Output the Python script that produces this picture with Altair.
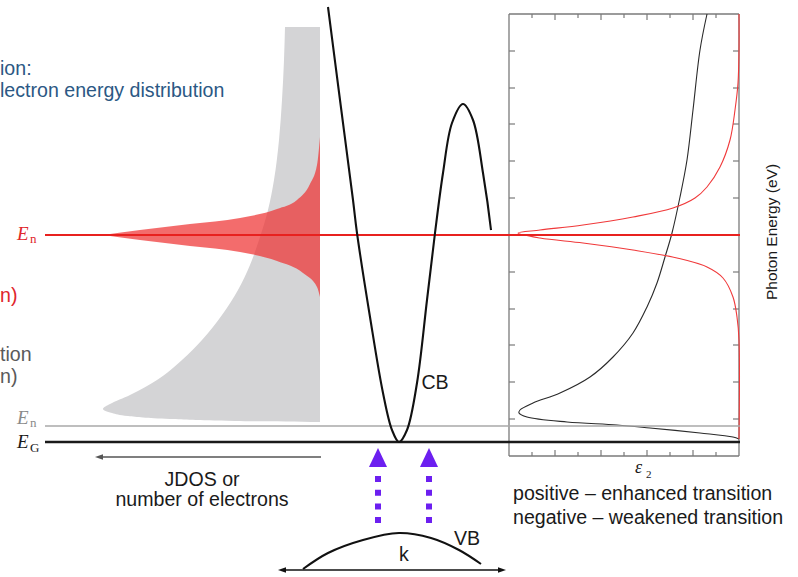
import altair as alt
import pandas as pd

# ---------------- canvas (data units = picture units) ----------------
W, H = 798, 577

# energy levels: red E_n, gray E_n, E_G
level_name = ["En_red", "En_gray", "EG"]
level_y = [235, 426, 442]
level_x0 = [45, 45, 45]
level_x1 = [740, 740, 740]
level_color = ["#e8211f", "#a8a8a8", "#1a1a1a"]
level_width = [2.2, 1.5, 2.6]

# JDOS (gray) envelope: left boundary x for each energy y, right edge fixed
jdos_y = [27, 60, 100, 140, 180, 210, 240, 265, 290, 315, 340, 360, 380, 395, 404, 409, 413, 416, 419, 421, 422]
jdos_x = [285, 284, 282, 279, 274, 268, 259, 250, 238, 222, 202, 182, 157, 130, 110, 103, 112, 128, 170, 235, 320]
jdos_edge = 320

# red Lorentzian electron-energy distribution (upper and lower halves around E_n)
lor_center = 235
lor_up_x = [103, 121, 140, 190, 240, 277, 297, 310, 317, 320]
lor_up_y = [235, 232.5, 230, 224, 218, 209, 200, 184, 165, 137]
lor_lo_x = [103, 121, 140, 190, 240, 277, 303, 317, 320]
lor_lo_y = [235, 237.5, 240, 246, 252, 261, 273, 287, 297]

# conduction band
cb_x = [328, 340, 353, 357, 370, 383, 392, 399, 407, 417, 427, 435, 443, 452, 463, 473, 483, 491]
cb_y = [7, 100, 200, 233, 317, 393, 430, 442, 430, 383, 300, 233, 173, 123, 104, 120, 173, 230]

# valence band
vb_x = [303, 328, 363, 399, 431, 459, 481]
vb_y = [569, 553, 540, 533, 538, 550, 564]

# epsilon_2 panel: frame and ticks
panel_x0, panel_x1, panel_y0, panel_y1 = 509, 739, 14, 456
xtick_pos = [532, 555, 578, 601, 624, 647, 670, 693, 716]
xtick_len = [4, 6, 4, 6, 4, 6, 4, 6, 4]
ytick_pos = [51, 88, 124, 161, 198, 235, 272, 309, 345, 382, 419]

# epsilon_2 curves (black: reference, red: with hot electrons)
e2b_x = [707, 700, 693, 687, 680, 672, 665, 657, 647, 633, 613, 590, 560, 533, 520, 519, 527, 567, 617, 650, 700, 733, 739]
e2b_y = [14, 50, 110, 160, 197, 233, 257, 283, 307, 333, 357, 377, 393, 403, 410, 413, 417, 422, 425, 428, 433, 437, 439]
e2r_x = [739, 739, 738, 735, 730, 720, 707, 695, 673, 633, 583, 540, 518, 540, 583, 633, 677, 707, 723, 733, 737, 739, 739]
e2r_y = [14, 50, 83, 110, 140, 167, 187, 198, 208, 217, 225, 230, 233, 238, 243, 250, 258, 267, 278, 297, 317, 340, 439]

# purple transition arrows
arrow_x = [378, 429]
arrow_dot_top, arrow_dot_bottom, arrow_head_y = 476, 524, 457.5
PURPLE = "#6c1ff0"

# ---------------- helpers ----------------
xs = alt.Scale(domain=[0, W], nice=False, zero=False)
ys = alt.Scale(domain=[0, H], nice=False, zero=False, reverse=True)
FS = 19.6


def X(f):
    return alt.X(f, type="quantitative", scale=xs, axis=None)


def Y(f):
    return alt.Y(f, type="quantitative", scale=ys, axis=None)


def texts(rows, **kw):
    df = pd.DataFrame(rows, columns=["t", "x", "y"])
    base = dict(font="Liberation Sans", baseline="middle", align="left")
    base.update(kw)
    return alt.Chart(df).mark_text(**base).encode(x=X("x"), y=Y("y"), text="t:N")


layers = []

# gray JDOS area
gdf = pd.DataFrame({"y": jdos_y, "xl": jdos_x, "xr": [jdos_edge] * len(jdos_y)})
layers.append(
    alt.Chart(gdf).mark_area(orient="horizontal", interpolate="monotone", color="#d4d4d6")
    .encode(y=Y("y"), x=X("xl"), x2=alt.X2("xr"))
)

# red Lorentzian (two halves, x independent)
udf = pd.DataFrame({"x": lor_up_x, "y": lor_up_y, "y2": [lor_center] * len(lor_up_x)})
ldf_ = pd.DataFrame({"x": lor_lo_x, "y": lor_lo_y, "y2": [lor_center] * len(lor_lo_x)})
for d in (udf, ldf_):
    layers.append(
        alt.Chart(d).mark_area(orient="vertical", interpolate="monotone", color="#ee3333", opacity=0.72)
        .encode(x=X("x"), y=Y("y"), y2=alt.Y2("y2"))
    )

# panel frame
fdf = pd.DataFrame({
    "x": [panel_x0, panel_x1, panel_x0, panel_x0],
    "x2": [panel_x0, panel_x1, panel_x1, panel_x1],
    "y": [panel_y0, panel_y0, panel_y0, panel_y1],
    "y2": [panel_y1, panel_y1, panel_y0, panel_y1],
})
layers.append(
    alt.Chart(fdf).mark_rule(color="#7a7a7a", strokeWidth=1.3)
    .encode(x=X("x"), x2=alt.X2("x2"), y=Y("y"), y2=alt.Y2("y2"))
)

# ticks
tick_rows = []
for p, L in zip(xtick_pos, xtick_len):
    tick_rows.append((p, p, panel_y1 - L, panel_y1))
    tick_rows.append((p, p, panel_y0, panel_y0 + L))
for p in ytick_pos:
    tick_rows.append((panel_x0, panel_x0 + 6, p, p))
    tick_rows.append((panel_x1 - 6, panel_x1, p, p))
tdf = pd.DataFrame(tick_rows, columns=["x", "x2", "y", "y2"])
layers.append(
    alt.Chart(tdf).mark_rule(color="#7a7a7a", strokeWidth=1.2)
    .encode(x=X("x"), x2=alt.X2("x2"), y=Y("y"), y2=alt.Y2("y2"))
)

# epsilon_2 curves
bdf = pd.DataFrame({"x": e2b_x, "y": e2b_y, "i": range(len(e2b_x))})
layers.append(
    alt.Chart(bdf).mark_line(interpolate="catmull-rom", color="#2a2a2a", strokeWidth=1.1)
    .encode(x=X("x"), y=Y("y"), order="i:Q")
)
e2rdf = pd.DataFrame({"x": e2r_x, "y": e2r_y, "i": range(len(e2r_x))})
layers.append(
    alt.Chart(e2rdf).mark_line(interpolate="catmull-rom", color="#f0393a", strokeWidth=1.1)
    .encode(x=X("x"), y=Y("y"), order="i:Q")
)

# energy level lines
for name, y, x0, x1, c, w in zip(level_name, level_y, level_x0, level_x1, level_color, level_width):
    ldf = pd.DataFrame({"x": [x0], "x2": [x1], "y": [y]})
    layers.append(
        alt.Chart(ldf).mark_rule(color=c, strokeWidth=w)
        .encode(x=X("x"), x2=alt.X2("x2"), y=Y("y"))
    )

# CB / VB
cdf = pd.DataFrame({"x": cb_x, "y": cb_y, "i": range(len(cb_x))})
layers.append(
    alt.Chart(cdf).mark_line(interpolate="catmull-rom", color="#111111", strokeWidth=2.1)
    .encode(x=X("x"), y=Y("y"), order="i:Q")
)
vdf = pd.DataFrame({"x": vb_x, "y": vb_y, "i": range(len(vb_x))})
layers.append(
    alt.Chart(vdf).mark_line(interpolate="catmull-rom", color="#111111", strokeWidth=2.1)
    .encode(x=X("x"), y=Y("y"), order="i:Q")
)

# JDOS arrow and k double arrow
adf = pd.DataFrame({"x": [101, 284], "x2": [321, 500], "y": [457, 570], "c": ["#555555", "#111111"]})
layers.append(
    alt.Chart(adf).mark_rule(strokeWidth=1.5)
    .encode(x=X("x"), x2=alt.X2("x2"), y=Y("y"), color=alt.Color("c:N", scale=None))
)
hl = pd.DataFrame({"x": [99, 282], "y": [457, 570], "c": ["#555555", "#111111"]})
layers.append(
    alt.Chart(hl).mark_point(shape="M-1,0L1,-0.7L1,0.7Z", size=64, filled=True, opacity=1, strokeWidth=0)
    .encode(x=X("x"), y=Y("y"), color=alt.Color("c:N", scale=None))
)
hr = pd.DataFrame({"x": [502], "y": [570]})
layers.append(
    alt.Chart(hr).mark_point(shape="M1,0L-1,-0.7L-1,0.7Z", size=64, filled=True, opacity=1, strokeWidth=0, color="#111111")
    .encode(x=X("x"), y=Y("y"))
)

# purple transition arrows
pdf = pd.DataFrame({"x": arrow_x, "y": [arrow_dot_top] * 2, "y2": [arrow_dot_bottom] * 2})
layers.append(
    alt.Chart(pdf).mark_rule(color=PURPLE, strokeWidth=6, strokeDash=[6, 7.7], strokeCap="butt")
    .encode(x=X("x"), y=Y("y"), y2=alt.Y2("y2"))
)
phdf = pd.DataFrame({"x": arrow_x, "y": [arrow_head_y] * 2})
layers.append(
    alt.Chart(phdf).mark_point(shape="M0,-1L-0.95,1L0.95,1Z", size=361, filled=True, opacity=1, strokeWidth=0, color=PURPLE)
    .encode(x=X("x"), y=Y("y"))
)

# ---------------- texts ----------------
layers.append(texts([("ion:", 0, 69), ("lectron energy distribution", 0, 91)], fontSize=FS, color="#2b5884"))
layers.append(texts([("n)", 0, 296)], fontSize=FS, color="#e0262c"))
layers.append(texts([("tion", 0, 355), ("n)", 0, 377)], fontSize=FS, color="#5a5a5a"))
layers.append(texts([("JDOS or", 202, 480), ("number of electrons", 202, 500)], fontSize=FS, color="#1a1a1a", align="center"))
layers.append(texts([("CB", 435, 383), ("VB", 467, 539), ("k", 404, 555)], fontSize=FS, color="#1a1a1a", align="center"))
layers.append(texts([("positive \u2013 enhanced transition", 513, 494),
                     ("negative \u2013 weakened transition", 513, 518)], fontSize=FS, color="#1a1a1a"))
layers.append(texts([("Photon Energy (eV)", 772, 232)], fontSize=15.5, color="#1a1a1a", align="center", angle=270))

# E labels (serif italic + subscript)
layers.append(texts([("E", 17, 234)], font="Liberation Serif", fontStyle="italic", fontSize=19, color="#e0262c"))
layers.append(texts([("n", 30, 239)], font="Liberation Serif", fontSize=13, color="#e0262c"))
layers.append(texts([("E", 17, 418)], font="Liberation Serif", fontStyle="italic", fontSize=19, color="#8a8a8a"))
layers.append(texts([("n", 30, 423)], font="Liberation Serif", fontSize=13, color="#8a8a8a"))
layers.append(texts([("E", 17, 442)], font="Liberation Serif", fontStyle="italic", fontSize=19, color="#1a1a1a"))
layers.append(texts([("G", 30, 448)], font="Liberation Serif", fontSize=13, color="#1a1a1a"))
layers.append(texts([("\u03b5", 635, 468)], font="Liberation Serif", fontStyle="italic", fontSize=18, color="#1a1a1a"))
layers.append(texts([("2", 646, 475)], font="Liberation Serif", fontSize=11, color="#1a1a1a"))

chart = (
    alt.layer(*layers)
    .properties(width=W, height=H, autosize=alt.AutoSizeParams(type="none"), padding=0, background="white")
    .configure_view(strokeWidth=0)
)

chart.save("out.html", embed_options={"renderer": "svg", "actions": False})
